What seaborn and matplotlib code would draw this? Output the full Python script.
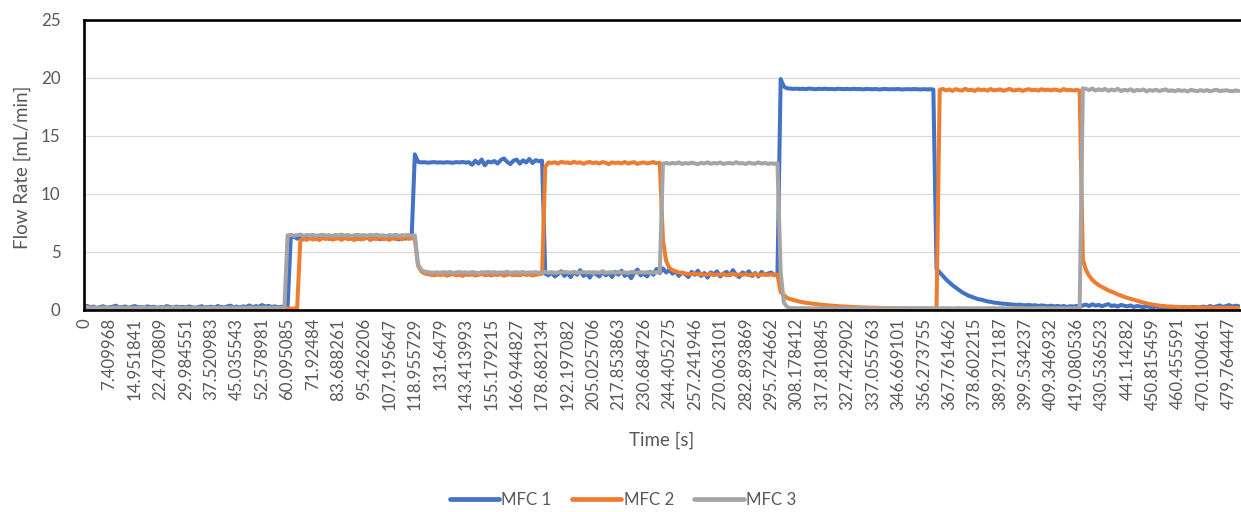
import numpy as np
import pandas as pd
import matplotlib
matplotlib.use("Agg")
import matplotlib.pyplot as plt
import seaborn as sns
from matplotlib.lines import Line2D

# Logged time stamps shown under every 8th sample of the category axis
time_labels = [
    "0", "7.409968", "14.951841", "22.470809", "29.984551", "37.520983",
    "45.035543", "52.578981", "60.095085", "71.92484", "83.688261",
    "95.426206", "107.195647", "118.955729", "131.6479", "143.413993",
    "155.179215", "166.944827", "178.682134", "192.197082", "205.025706",
    "217.853863", "230.684726", "244.405275", "257.241946", "270.063101",
    "282.893869", "295.724662", "308.178412", "317.810845", "327.422902",
    "337.055763", "346.669101", "356.273755", "367.761462", "378.602215",
    "389.271187", "399.534237", "409.346932", "419.080536", "430.536523",
    "441.14282", "450.815459", "460.455591", "470.100461", "479.764447",
]
samples_per_label = 8

# Measured flow rates [mL/min], one row per labelled interval (8 samples)
mfc1 = [
    0.22, 0.31, 0.18, 0.25, 0.12, 0.2, 0.28, 0.15,
    0.19, 0.24, 0.33, 0.17, 0.21, 0.26, 0.14, 0.23,
    0.3, 0.18, 0.22, 0.16, 0.27, 0.2, 0.24, 0.13,
    0.21, 0.18, 0.29, 0.22, 0.15, 0.25, 0.19, 0.23,
    0.17, 0.26, 0.2, 0.14, 0.22, 0.28, 0.18, 0.21,
    0.24, 0.16, 0.3, 0.22, 0.19, 0.26, 0.33, 0.2,
    0.25, 0.18, 0.27, 0.22, 0.35, 0.2, 0.29, 0.24,
    0.38, 0.26, 0.31, 0.22, 0.27, 0.19, 0.24, 0.21,
    0.25, 6.18, 6.3, 6.12, 6.25, 6.05, 6.2, 6.34,
    6.15, 6.28, 6.08, 6.22, 6.36, 6.1, 6.25, 6.17,
    6.3, 6.05, 6.2, 6.12, 6.27, 6.35, 6.1, 6.22,
    6.15, 6.3, 6.02, 6.18, 6.25, 6.08, 6.2, 6.32,
    6.1, 6.24, 6.15, 6.05, 6.28, 6.12, 6.2, 6.26,
    13.4, 12.75, 12.7, 12.72, 12.68, 12.7, 12.73, 12.69,
    12.71, 12.68, 12.72, 12.7, 12.67, 12.73, 12.7, 12.74,
    12.69, 12.72, 12.5, 12.85, 12.6, 12.95, 12.45, 12.78,
    12.7, 12.82, 12.6, 12.9, 13.05, 12.75, 12.55, 12.85,
    12.95, 12.6, 12.88, 12.7, 13.0, 12.65, 12.9, 12.8,
    12.85, 3.1, 2.95, 3.2, 2.85, 3.05, 3.3, 2.9,
    3.15, 2.8, 3.25, 3.0, 3.4, 2.9, 3.1, 2.75,
    3.2, 3.05, 2.85, 3.3, 2.95, 3.15, 2.8, 3.25,
    3.0, 3.35, 2.9, 3.1, 2.7, 3.2, 3.45, 2.95,
    3.1, 2.85, 3.25, 3.0, 3.5, 3.15, 3.55, 3.2,
    3.4, 3.1, 3.3, 2.9, 3.2, 3.05, 2.8, 3.25,
    3.0, 3.35, 2.9, 3.15, 2.75, 3.2, 3.05, 3.3,
    2.85, 3.1, 3.25, 2.95, 3.4, 3.0, 2.8, 3.2,
    3.05, 3.3, 2.9, 3.15, 2.85, 3.25, 3.0, 3.1,
    3.2, 2.95, 3.1, 19.9, 19.25, 19.1, 19.08, 19.05,
    19.07, 19.04, 19.06, 19.03, 19.08, 19.05, 19.02, 19.06,
    19.04, 19.07, 19.03, 19.05, 19.02, 19.06, 19.04, 19.03,
    19.05, 19.02, 19.06, 19.03, 19.04, 19.01, 19.05, 19.03,
    19.02, 19.04, 19.0, 19.03, 19.05, 19.01, 19.03, 19.02,
    19.04, 19.0, 19.02, 19.03, 19.01, 19.04, 19.02, 19.0,
    19.03, 19.01, 19.02, 19.0, 3.5, 3.2, 2.9, 2.6,
    2.35, 2.1, 1.9, 1.7, 1.5, 1.35, 1.2, 1.1,
    1.0, 0.9, 0.85, 0.78, 0.7, 0.66, 0.6, 0.57,
    0.53, 0.5, 0.48, 0.45, 0.43, 0.4, 0.42, 0.38,
    0.36, 0.4, 0.34, 0.37, 0.3, 0.35, 0.32, 0.28,
    0.33, 0.27, 0.31, 0.25, 0.3, 0.22, 0.28, 0.26,
    0.3, 0.24, 0.35, 0.42, 0.3, 0.45, 0.33, 0.4,
    0.28, 0.38, 0.46, 0.3, 0.36, 0.25, 0.4, 0.32,
    0.27, 0.35, 0.22, 0.3, 0.26, 0.2, 0.28, 0.23,
    0.18, 0.25, 0.2, 0.16, 0.22, 0.18, 0.24, 0.15,
    0.2, 0.17, 0.23, 0.14, 0.19, 0.22, 0.16, 0.2,
    0.25, 0.18, 0.3, 0.2, 0.27, 0.35, 0.22, 0.3,
    0.38, 0.25, 0.33, 0.28,
]

mfc2 = [
    0.3, 0.22, 0.1, 0.08, 0.12, 0.05, 0.1, 0.15,
    0.08, 0.12, 0.06, 0.1, 0.18, 0.07, 0.11, 0.09,
    0.13, 0.06, 0.1, 0.08, 0.14, 0.09, 0.05, 0.11,
    0.07, 0.12, 0.09, 0.15, 0.06, 0.1, 0.08, 0.12,
    0.1, 0.07, 0.13, 0.09, 0.06, 0.11, 0.08, 0.1,
    0.12, 0.08, 0.1, 0.06, 0.09, 0.13, 0.07, 0.1,
    0.08, 0.11, 0.07, 0.1, 0.12, 0.06, 0.09, 0.11,
    0.07, 0.1, 0.08, 0.12, 0.06, 0.09, 0.1, 0.08,
    0.1, 0.07, 0.09, 0.08, 5.95, 6.1, 6.02, 6.15,
    6.05, 6.12, 6.0, 6.18, 6.08, 6.25, 6.03, 6.1,
    6.15, 6.02, 6.2, 6.07, 6.12, 6.0, 6.17, 6.05,
    6.1, 6.22, 6.04, 6.13, 6.08, 6.3, 6.06, 6.12,
    6.02, 6.15, 6.08, 6.2, 6.05, 6.35, 6.1, 6.15,
    6.1, 3.8, 3.3, 3.12, 3.05, 3.0, 2.95, 3.02,
    2.98, 3.04, 2.92, 3.0, 3.06, 2.95, 3.02, 2.9,
    3.03, 2.97, 3.05, 2.93, 3.0, 3.08, 2.96, 3.01,
    2.94, 3.02, 2.98, 3.06, 2.92, 3.0, 3.04, 2.96,
    3.0, 2.95, 3.07, 2.98, 3.03, 2.93, 3.0, 3.05,
    3.1, 12.3, 12.7, 12.65, 12.72, 12.6, 12.75, 12.68,
    12.7, 12.62, 12.76, 12.66, 12.71, 12.58, 12.69, 12.74,
    12.64, 12.7, 12.6, 12.73, 12.67, 12.55, 12.71, 12.65,
    12.69, 12.62, 12.74, 12.6, 12.68, 12.72, 12.57, 12.66,
    12.7, 12.61, 12.67, 12.73, 12.63, 12.66, 6.0, 4.2,
    3.6, 3.4, 3.28, 3.2, 3.15, 3.1, 3.08, 3.05,
    3.1, 3.02, 3.07, 2.98, 3.04, 3.08, 2.96, 3.03,
    3.0, 3.06, 2.95, 3.02, 3.08, 2.97, 3.03, 2.99,
    3.05, 2.96, 3.02, 3.07, 2.94, 3.01, 3.05, 2.98,
    3.04, 2.97, 3.02, 1.5, 1.25, 1.0, 0.9, 0.82,
    0.75, 0.68, 0.62, 0.58, 0.54, 0.5, 0.47, 0.44,
    0.41, 0.38, 0.36, 0.33, 0.31, 0.29, 0.27, 0.26,
    0.24, 0.23, 0.21, 0.2, 0.19, 0.18, 0.17, 0.16,
    0.15, 0.15, 0.14, 0.13, 0.13, 0.12, 0.12, 0.11,
    0.11, 0.1, 0.1, 0.1, 0.09, 0.09, 0.09, 0.08,
    0.08, 0.08, 0.07, 0.07, 0.08, 18.95, 19.05, 18.92,
    19.0, 18.88, 19.03, 18.95, 18.9, 19.06, 18.93, 18.98,
    18.87, 19.02, 18.94, 18.99, 18.9, 19.04, 18.92, 18.96,
    19.01, 18.89, 18.97, 19.05, 18.91, 18.95, 19.0, 18.88,
    18.96, 19.03, 18.93, 18.98, 18.9, 19.02, 18.94, 18.99,
    18.92, 19.0, 18.95, 18.89, 19.04, 18.93, 18.97, 18.91,
    18.96, 18.9, 4.3, 3.4, 2.9, 2.55, 2.3, 2.1,
    1.95, 1.8, 1.65, 1.55, 1.42, 1.3, 1.2, 1.1,
    1.0, 0.92, 0.84, 0.76, 0.68, 0.6, 0.53, 0.47,
    0.42, 0.38, 0.34, 0.3, 0.28, 0.26, 0.25, 0.23,
    0.22, 0.21, 0.2, 0.2, 0.19, 0.18, 0.18, 0.17,
    0.17, 0.16, 0.16, 0.15, 0.15, 0.15, 0.14, 0.14,
    0.14, 0.13, 0.13, 0.13,
]

mfc3 = [
    0.15, 0.17, 0.14, 0.16, 0.15, 0.13, 0.16, 0.15,
    0.14, 0.16, 0.15, 0.17, 0.13, 0.15, 0.16, 0.14,
    0.15, 0.13, 0.17, 0.15, 0.14, 0.16, 0.15, 0.17,
    0.14, 0.15, 0.16, 0.13, 0.15, 0.17, 0.14, 0.15,
    0.16, 0.14, 0.15, 0.17, 0.15, 0.13, 0.16, 0.15,
    0.15, 0.17, 0.14, 0.15, 0.16, 0.14, 0.15, 0.17,
    0.13, 0.15, 0.16, 0.14, 0.17, 0.15, 0.14, 0.16,
    0.15, 0.17, 0.14, 0.16, 0.15, 0.13, 0.15, 0.16,
    6.4, 6.45, 6.38, 6.42, 6.47, 6.36, 6.43, 6.4,
    6.44, 6.37, 6.41, 6.46, 6.39, 6.42, 6.35, 6.44,
    6.4, 6.47, 6.38, 6.43, 6.36, 6.41, 6.45, 6.39,
    6.42, 6.37, 6.44, 6.4, 6.46, 6.38, 6.41, 6.35,
    6.43, 6.39, 6.45, 6.37, 6.42, 6.4, 6.44, 6.38,
    6.4, 3.9, 3.42, 3.28, 3.22, 3.2, 3.18, 3.21,
    3.17, 3.22, 3.19, 3.24, 3.16, 3.2, 3.23, 3.18,
    3.21, 3.17, 3.24, 3.19, 3.15, 3.22, 3.2, 3.25,
    3.18, 3.23, 3.16, 3.21, 3.19, 3.26, 3.17, 3.2,
    3.22, 3.18, 3.24, 3.16, 3.21, 3.19, 3.23, 3.17,
    3.2, 3.25, 3.18, 3.22, 3.16, 3.21, 3.19, 3.24,
    3.21, 3.18, 3.23, 3.17, 3.2, 3.24, 3.19, 3.22,
    3.16, 3.21, 3.19, 3.25, 3.18, 3.2, 3.22, 3.17,
    3.23, 3.19, 3.21, 3.16, 3.24, 3.2, 3.18, 3.22,
    3.19, 3.22, 3.17, 3.21, 3.2, 3.23, 12.6, 12.65,
    12.58, 12.66, 12.61, 12.7, 12.57, 12.64, 12.6, 12.68,
    12.62, 12.55, 12.67, 12.6, 12.71, 12.58, 12.65, 12.61,
    12.69, 12.57, 12.63, 12.66, 12.59, 12.72, 12.61, 12.64,
    12.56, 12.68, 12.62, 12.59, 12.7, 12.6, 12.65, 12.58,
    12.62, 12.58, 12.64, 3.2, 0.6, 0.22, 0.14, 0.12,
    0.11, 0.1, 0.12, 0.1, 0.11, 0.09, 0.11, 0.1,
    0.12, 0.1, 0.11, 0.09, 0.1, 0.11, 0.1, 0.12,
    0.1, 0.11, 0.09, 0.11, 0.1, 0.12, 0.1, 0.11,
    0.09, 0.11, 0.1, 0.1, 0.12, 0.1, 0.11, 0.09,
    0.11, 0.1, 0.12, 0.1, 0.09, 0.11, 0.1, 0.11,
    0.1, 0.12, 0.1, 0.11, 0.09, 0.1, 0.11, 0.1,
    0.11, 0.09, 0.1, 0.12, 0.1, 0.11, 0.1, 0.09,
    0.1, 0.11, 0.1, 0.09, 0.11, 0.1, 0.12, 0.1,
    0.11, 0.1, 0.09, 0.11, 0.1, 0.11, 0.1, 0.12,
    0.1, 0.09, 0.11, 0.1, 0.12, 0.1, 0.11, 0.1,
    0.09, 0.11, 0.1, 0.11, 0.1, 0.09, 0.11, 0.1,
    0.11, 0.1, 19.1, 19.05, 18.95, 19.08, 18.9, 19.02,
    18.93, 19.05, 18.88, 18.99, 18.92, 19.06, 18.86, 18.97,
    18.9, 19.02, 18.85, 18.96, 18.91, 19.0, 18.84, 18.95,
    18.89, 18.98, 18.86, 18.94, 19.01, 18.87, 18.93, 18.85,
    18.96, 18.88, 18.92, 18.83, 18.97, 18.9, 18.86, 18.94,
    18.87, 18.95, 18.84, 18.91, 18.98, 18.86, 18.9, 18.93,
    18.88, 18.85, 18.92, 18.87,
]

series_names = ["MFC 1", "MFC 2", "MFC 3"]
series_colors = ["#4472C4", "#ED7D31", "#A5A5A5"]

frames = []
for name, values in zip(series_names, [mfc1, mfc2, mfc3]):
    frames.append(pd.DataFrame({
        "sample": np.arange(len(values)),
        "flow": values,
        "series": name,
    }))
df = pd.concat(frames, ignore_index=True)

sns.set_theme(style="white")
plt.rcParams["font.family"] = ["Lato", "DejaVu Sans"]
text_grey = "#595959"

W, H = 1241, 512
fig = plt.figure(figsize=(W / 100, H / 100), dpi=100)
left_px, right_px, top_px, bottom_px = 84, 1240, 20, 309.5
ax = fig.add_axes([left_px / W, 1 - bottom_px / H,
                   (right_px - left_px) / W, (bottom_px - top_px) / H])

sns.lineplot(data=df, x="sample", y="flow", hue="series",
             hue_order=series_names, palette=series_colors,
             estimator=None, sort=False, linewidth=2.9,
             legend=False, ax=ax)
for ln in ax.lines:
    ln.set_solid_capstyle("round")
    ln.set_solid_joinstyle("round")

ax.set_xlim(0, 363.4)
ax.set_ylim(0, 25)
ax.set_xticks(np.arange(len(time_labels)) * samples_per_label)
ax.set_xticklabels(time_labels, rotation=90)
ax.set_yticks(np.arange(0, 26, 5))

ax.yaxis.grid(True, color="#D9D9D9", linewidth=0.9)
ax.xaxis.grid(False)
ax.set_axisbelow(True)

for side in ["left", "top", "bottom"]:
    ax.spines[side].set_visible(True)
    ax.spines[side].set_color("black")
    ax.spines[side].set_linewidth(1.9)
    ax.spines[side].set_zorder(5)
ax.spines["right"].set_visible(False)

ax.tick_params(axis="x", length=0, pad=6, labelsize=12.2, labelcolor=text_grey)
ax.tick_params(axis="y", length=0, pad=17, labelsize=12.2, labelcolor=text_grey)

ax.set_xlabel("Time [s]", fontsize=13.5, color=text_grey)
ax.xaxis.label.set_va("center")
ax.xaxis.set_label_coords(0.5, (bottom_px - 440) / (bottom_px - top_px))
ax.set_ylabel("Flow Rate [mL/min]", fontsize=13.5, color=text_grey)
ax.yaxis.label.set_va("center")
ax.yaxis.set_label_coords((22 - left_px) / (right_px - left_px), 0.49)

handles = [Line2D([], [], color=c, linewidth=3.4, solid_capstyle="round")
           for c in series_colors]
leg = fig.legend(handles, series_names, loc="center",
                 bbox_to_anchor=(623 / W, 1 - 500 / H), ncol=3,
                 frameon=False, fontsize=12.2, handlelength=2.9,
                 handletextpad=0.15, columnspacing=1.2)
for t in leg.get_texts():
    t.set_color(text_grey)

fig.savefig("out.png", dpi=100)
